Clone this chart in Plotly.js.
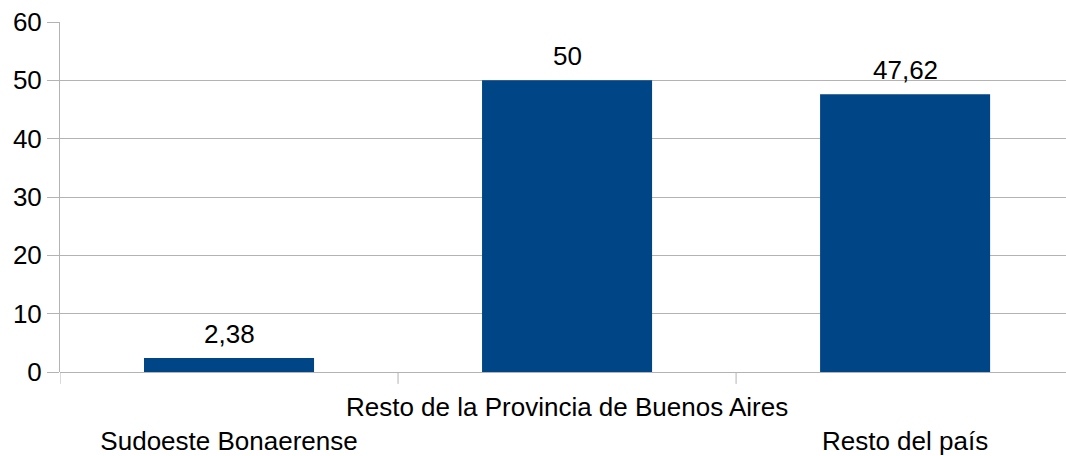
<!DOCTYPE html>
<html>
<head>
<meta charset="utf-8">
<script src="https://cdn.plot.ly/plotly-3.0.1.min.js"></script>
<style>html,body{margin:0;padding:0;background:#fff;}#chart{width:1066px;height:456px;}</style>
</head>
<body>
<div id="chart"></div>
<script>
const categories = ["Sudoeste Bonaerense", "Resto de la Provincia de Buenos Aires", "Resto del país"];
const values = [2.38, 50, 47.62];
const tickLabels = ["<br>Sudoeste Bonaerense", "Resto de la Provincia de Buenos Aires", "<br>Resto del país"];
const yTicks = [0, 10, 20, 30, 40, 50, 60];

const labels = values.map(v => String(v).replace('.', ','));
const xIdx = categories.map((c, i) => i);

const trace = {
  type: 'bar',
  x: xIdx,
  y: values,
  marker: {color: '#004586', line: {width: 0}},
  width: 0.503,
  hoverinfo: 'none'
};

const annotations = xIdx.map((x, i) => ({
  x: x, y: values[i], xref: 'x', yref: 'y',
  text: labels[i], showarrow: false,
  xanchor: 'center', yanchor: 'bottom', yshift: 7,
  font: {family: 'Liberation Sans, Arial, sans-serif', size: 26, color: '#000'}
}));

const layout = {
  width: 1066, height: 456,
  margin: {l: 60, r: 0, t: 22, b: 84},
  paper_bgcolor: '#fff', plot_bgcolor: '#fff',
  font: {family: 'Liberation Sans, Arial, sans-serif', size: 26, color: '#000'},
  showlegend: false,
  xaxis: {
    type: 'linear',
    range: [-0.5, 2.476],
    tickmode: 'array',
    tickvals: xIdx,
    ticktext: tickLabels,
    tickangle: 0,
    ticks: '',
    ticklabelstandoff: 17,
    showgrid: false,
    zeroline: false,
    showline: false,
    tickfont: {size: 26, color: '#000'},
    fixedrange: true
  },
  yaxis: {
    range: [0, 60],
    tickmode: 'array',
    tickvals: yTicks,
    ticktext: yTicks.map(String),
    ticks: 'outside',
    ticklen: 12,
    tickcolor: '#b3b3b3',
    tickwidth: 1,
    showgrid: true,
    gridcolor: '#b3b3b3',
    gridwidth: 1,
    zeroline: true,
    zerolinecolor: '#b3b3b3',
    zerolinewidth: 1,
    showline: true,
    linecolor: '#b3b3b3',
    linewidth: 1,
    tickfont: {size: 26, color: '#000'},
    fixedrange: true
  },
  annotations: annotations,
  shapes: [-0.5, 0.5, 1.5].map(b => ({
    type: 'line', xref: 'x', yref: 'paper',
    x0: b, x1: b, y0: 0, y1: -0.034,
    line: {color: '#b3b3b3', width: 1}
  })),
  bargap: 0.497
};

Plotly.newPlot('chart', [trace], layout, {displayModeBar: false, staticPlot: true});
</script>
</body>
</html>
